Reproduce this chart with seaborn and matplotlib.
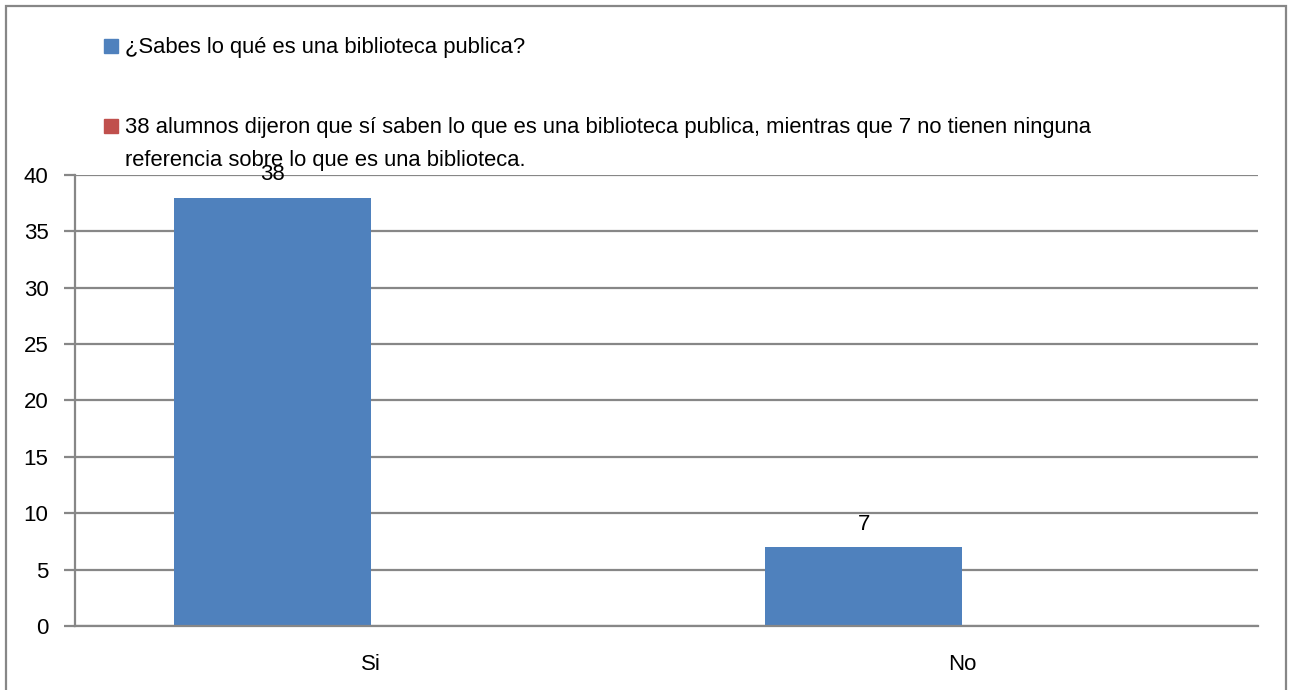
import numpy as np
import pandas as pd
import matplotlib
matplotlib.use("Agg")
import matplotlib.pyplot as plt
import seaborn as sns
from matplotlib.patches import Rectangle

categorias = ["Si", "No"]
valores = [38, 7]
leyenda = ["¿Sabes lo qué es una biblioteca publica?",
           "38 alumnos dijeron que sí saben lo que es una biblioteca publica, mientras que 7 no tienen ninguna\nreferencia sobre lo que es una biblioteca."]
valores_2 = [np.nan, np.nan]  # la segunda serie no tiene datos
colores = ["#4F81BD", "#C0504D"]

sns.set_style("white")
plt.rcParams['font.family'] = ['Liberation Sans', 'DejaVu Sans']
plt.rcParams['text.color'] = 'black'
plt.rcParams['xtick.color'] = 'black'
plt.rcParams['ytick.color'] = 'black'

W, H = 1292, 690
fig = plt.figure(figsize=(W / 100, H / 100), dpi=100)
ax = fig.add_axes([75 / W, 1 - 626 / H, (1258 - 75) / W, (626 - 175) / H])

df = pd.DataFrame({"cat": categorias * 2,
                   "val": valores + valores_2,
                   "serie": [leyenda[0]] * 2 + [leyenda[1]] * 2})
sns.barplot(data=df, x="cat", y="val", hue="serie", palette=colores, saturation=1,
            width=2 / 3, linewidth=0, legend=False, ax=ax)
ax.bar_label(ax.containers[0], fontsize=16, padding=9)

gris = "#878787"
ax.set_xlim(-0.5, 1.5)
ax.set_ylim(0, 40)
ax.set_yticks(np.arange(0, 41, 5))
ax.yaxis.grid(True, color=gris, linewidth=1.6)
ax.set_axisbelow(True)
for s in ["top", "right"]:
    ax.spines[s].set_visible(False)
for s in ["left", "bottom"]:
    ax.spines[s].set_color(gris)
    ax.spines[s].set_linewidth(1.6)
ax.set_xticks([-0.5, 0.5, 1.5], minor=True)
ax.tick_params(axis="x", which="major", length=0, pad=20, labelsize=16)
ax.tick_params(axis="x", which="minor", length=7, width=1.6, color=gris)
ax.tick_params(axis="y", length=8, width=1.6, color=gris, labelcolor="black",
               labelsize=16, pad=11, left=True)
ax.set_xlabel("")
ax.set_ylabel("")

# marco del grafico
fig.patches.append(Rectangle((6 / W, -0.05), (1286 - 6) / W, 1.05 - 6 / H,
                             transform=fig.transFigure, fill=False,
                             edgecolor=gris, linewidth=1.6))

# leyenda
ys = [46, 126]
for y, txt, c in zip(ys, leyenda, colores):
    fig.patches.append(Rectangle((104 / W, 1 - (y + 7) / H), 14 / W, 14 / H,
                                 transform=fig.transFigure, color=c))
    fig.text(125 / W, 1 - (y - 9) / H, txt, fontsize=15.8, va="top", ha="left",
             linespacing=1.78)

fig.savefig("out.png", dpi=100)
